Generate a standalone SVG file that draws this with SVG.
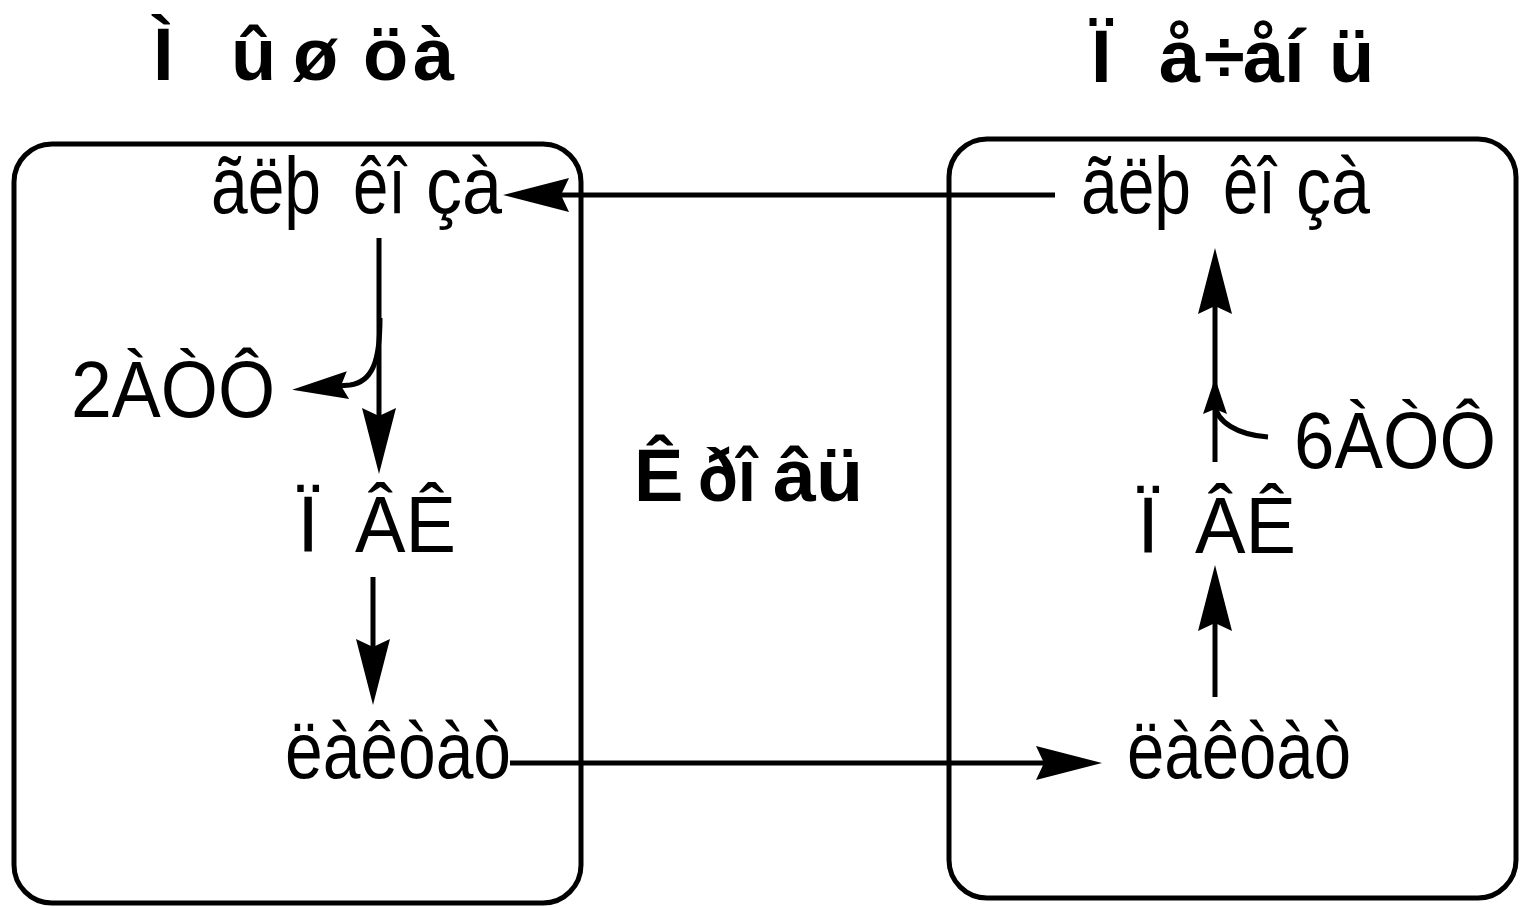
<svg xmlns="http://www.w3.org/2000/svg" width="1522" height="907" viewBox="0 0 1522 907">
<style>
.box{fill:none;stroke:#000;stroke-width:5}
.ln{fill:none;stroke:#000;stroke-width:5}
.t{font-family:"Liberation Sans",Arial,sans-serif;font-size:80px;fill:#000}
.b{font-family:"Liberation Sans",Arial,sans-serif;font-size:74px;font-weight:bold;fill:#000}
</style>
<defs>
<marker id="ah" markerUnits="userSpaceOnUse" markerWidth="70" markerHeight="36" refX="16" refY="17" orient="auto" overflow="visible">
<path d="M66,17 L0,0 L8,17 L0,34 Z" fill="#000"/>
</marker>
<marker id="ah2" markerUnits="userSpaceOnUse" markerWidth="60" markerHeight="30" refX="10" refY="14" orient="auto" overflow="visible">
<path d="M56,14 L0,0 L7,14 L0,28 Z" fill="#000"/>
</marker>
<marker id="ah3" markerUnits="userSpaceOnUse" markerWidth="40" markerHeight="26" refX="14" refY="12" orient="auto" overflow="visible">
<path d="M36,12 L0,0 L5,12 L0,24 Z" fill="#000"/>
</marker>
</defs>
<rect width="1522" height="907" fill="#fff"/>
<g id="title-left"><text class="b" y="80"><tspan x="153">Ì</tspan> <tspan x="231">û</tspan> <tspan x="293">ø</tspan> <tspan x="363">ö</tspan><tspan x="413">à</tspan></text></g>
<g id="title-right"><text class="b" y="82"><tspan x="1091">Ï</tspan> <tspan x="1159">å</tspan><tspan x="1204">÷</tspan><tspan x="1243">å</tspan><tspan x="1284">í</tspan> <tspan x="1329">ü</tspan></text></g>
<g id="box-left"><rect class="box" x="14" y="144" width="567" height="759" rx="38"/></g>
<g id="box-right"><rect class="box" x="949" y="139" width="567" height="759" rx="38"/></g>
<g id="glucose-left"><text class="t" y="213"><tspan x="211" textLength="110" lengthAdjust="spacingAndGlyphs">ãëþ</tspan> <tspan x="353" textLength="53" lengthAdjust="spacingAndGlyphs">êî</tspan> <tspan x="426" textLength="76" lengthAdjust="spacingAndGlyphs">çà</tspan></text></g>
<g id="glucose-right"><text class="t" y="213"><tspan x="1081" textLength="110" lengthAdjust="spacingAndGlyphs">ãëþ</tspan> <tspan x="1223" textLength="53" lengthAdjust="spacingAndGlyphs">êî</tspan> <tspan x="1296" textLength="74" lengthAdjust="spacingAndGlyphs">çà</tspan></text></g>
<g id="atp2"><text class="t" y="417" x="71" textLength="204" lengthAdjust="spacingAndGlyphs">2ÀÒÔ</text></g>
<g id="atp6"><text class="t" y="468" x="1294" textLength="202" lengthAdjust="spacingAndGlyphs">6ÀÒÔ</text></g>
<g id="pvk-left"><text class="t" y="552"><tspan x="297">Ï</tspan> <tspan x="355" textLength="101" lengthAdjust="spacingAndGlyphs">ÂÊ</tspan></text></g>
<g id="pvk-right"><text class="t" y="553"><tspan x="1137">Ï</tspan> <tspan x="1195" textLength="101" lengthAdjust="spacingAndGlyphs">ÂÊ</tspan></text></g>
<g id="lactate-left"><text class="t" y="778" x="285" textLength="226" lengthAdjust="spacingAndGlyphs">ëàêòàò</text></g>
<g id="lactate-right"><text class="t" y="778" x="1127" textLength="224" lengthAdjust="spacingAndGlyphs">ëàêòàò</text></g>
<g id="blood"><text class="b" y="501"><tspan x="634">Ê</tspan> <tspan x="698" textLength="58" lengthAdjust="spacingAndGlyphs">ðî</tspan> <tspan x="773" textLength="90" lengthAdjust="spacingAndGlyphs">âü</tspan></text></g>
<g id="connectors">
<path class="ln" d="M1055,195 L553,195" marker-end="url(#ah)"/>
<path class="ln" d="M379,238 L379,424" marker-end="url(#ah)"/>
<path class="ln" d="M380,318 C380,362 372,382 350,385 L338,386" marker-end="url(#ah2)"/>
<path class="ln" d="M373,577 L373,655" marker-end="url(#ah)"/>
<path class="ln" d="M510,763 L1052,763" marker-end="url(#ah)"/>
<path class="ln" d="M1215,697 L1215,615" marker-end="url(#ah)"/>
<path class="ln" d="M1215,462 L1215,298" marker-end="url(#ah)"/>
<path class="ln" d="M1268,437 C1238,435 1216,422 1215,404 L1215,400" marker-end="url(#ah3)"/>
</g>
</svg>
